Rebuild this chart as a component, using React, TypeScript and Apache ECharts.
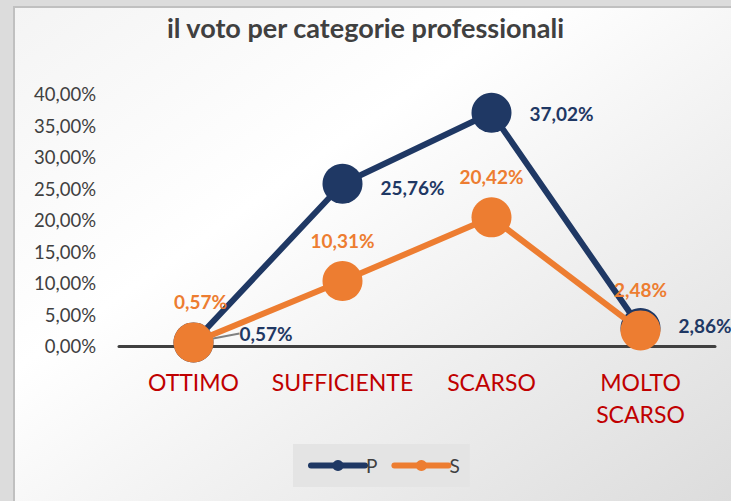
import React, { useEffect, useRef } from "react";
import * as echarts from "echarts";

const categories = ["OTTIMO", "SUFFICIENTE", "SCARSO", "MOLTO\nSCARSO"];
const seriesP = [0.57, 25.76, 37.02, 2.86];
const seriesS = [0.57, 10.31, 20.42, 2.48];
const yTicks = { min: 0, max: 40, interval: 5 };

const fmt = (v: number) => v.toFixed(2).replace(".", ",") + "%";
const FONT = "Lato, 'Open Sans', sans-serif";

export default function App() {
  const ref = useRef<HTMLDivElement>(null);
  useEffect(() => {
    const chart = echarts.init(ref.current!, null, { renderer: "svg" });
    const pOffsets: [number, number][] = [[8, -9], [0, 4], [0, 1], [0, -2]];
    chart.setOption({
      animation: false,
      backgroundColor: "#dcdcdc",
      graphic: [
        {
          type: "rect",
          z: -10,
          shape: { x: 14, y: 7, width: 740, height: 520 },
          style: {
            fill: new echarts.graphic.LinearGradient(0, 0, 1, 1, [
              { offset: 0, color: "#f4f4f4" },
              { offset: 0.35, color: "#ffffff" },
              { offset: 1, color: "#dadada" },
            ]),
            stroke: "#c0c0c0",
            lineWidth: 2,
          },
        },
      ],
      title: {
        text: "il voto per categorie professionali",
        left: "center",
        top: 9,
        textStyle: { fontFamily: FONT, fontSize: 27, fontWeight: "bold", color: "#404040" },
      },
      legend: {
        bottom: 14,
        left: 293,
        itemWidth: 54,
        itemHeight: 14,
        itemGap: 14,
        padding: [12, 10, 12, 15],
        backgroundColor: "#e4e4e4",
        lineStyle: { width: 6, cap: "round" },
        textStyle: { fontFamily: FONT, fontSize: 19, color: "#404040", padding: [0, 0, 0, -4] },
        data: ["P", "S"],
      },
      grid: { left: 119, right: 16, top: 94, bottom: 155 },
      xAxis: {
        type: "category",
        data: categories,
        boundaryGap: true,
        axisLine: { lineStyle: { color: "#404040", width: 3 } },
        axisTick: { show: false },
        axisLabel: { interval: 0, color: "#C00000", fontFamily: FONT, fontSize: 23, margin: 20, lineHeight: 32 },
      },
      yAxis: {
        type: "value",
        min: yTicks.min,
        max: yTicks.max,
        interval: yTicks.interval,
        splitLine: { show: false },
        axisLine: { show: false },
        axisTick: { show: false },
        axisLabel: {
          color: "#404040",
          fontFamily: FONT,
          fontSize: 18.5,
          margin: 23,
          formatter: (v: number) => fmt(v),
        },
      },
      series: [
        {
          name: "P",
          type: "line",
          data: seriesP.map((v, i) => ({ value: v, labelLine: { show: i === 0 } })),
          symbol: "circle",
          symbolSize: 40,
          lineStyle: { width: 6, color: "#1F3864" },
          itemStyle: { color: "#1F3864" },
          z: 2,
          label: {
            show: true,
            position: "right",
            distance: 18,
            color: "#1F3864",
            fontFamily: FONT,
            fontSize: 19,
            fontWeight: "bold",
            formatter: (p: any) => fmt(p.value),
          },
          labelLayout: (params: any) => ({ dx: pOffsets[params.dataIndex][0], dy: pOffsets[params.dataIndex][1] }),
          labelLine: { show: false, lineStyle: { color: "#808080", width: 2 } },
        },
        {
          name: "S",
          type: "line",
          data: seriesS,
          symbol: "circle",
          symbolSize: 40,
          lineStyle: { width: 6, color: "#ED7D31" },
          itemStyle: { color: "#ED7D31" },
          z: 3,
          label: {
            show: true,
            position: "top",
            distance: 11,
            color: "#ED7D31",
            fontFamily: FONT,
            fontSize: 19,
            fontWeight: "bold",
            formatter: (p: any) => fmt(p.value),
          },
          labelLayout: (params: any) => ({ dx: params.dataIndex === 0 ? 7 : 0 }),
        },
      ],
    });
    return () => chart.dispose();
  }, []);
  return <div ref={ref} style={{ position: "absolute", left: 0, top: 0, width: 731, height: 501 }} />;
}
